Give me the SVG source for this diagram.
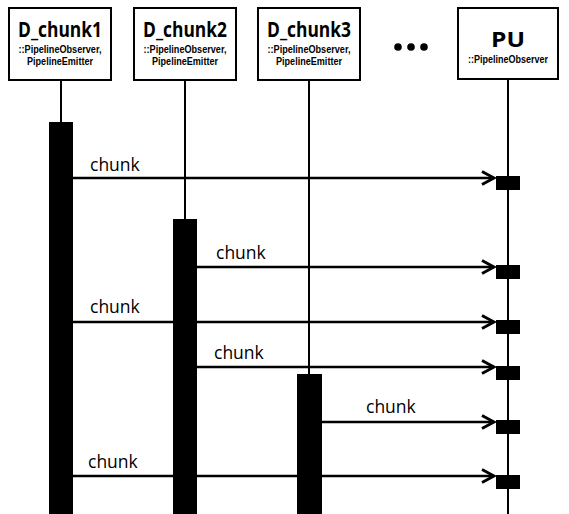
<svg xmlns="http://www.w3.org/2000/svg" width="569" height="514" viewBox="0 0 569 514">
  <style>
    .box { fill: #ffffff; stroke: #000000; stroke-width: 2; }
    .life { stroke: #000000; stroke-width: 2; fill: none; }
    .bar { fill: #000000; }
    .title { font-family: "Open Sans", "Liberation Sans", sans-serif; font-weight: bold; font-size: 21.5px; fill: #000000; }
    .sub { font-family: "Liberation Sans", "Open Sans", sans-serif; font-weight: bold; font-size: 10px; fill: #000000; }
    .msg { stroke: #000000; stroke-width: 2.5; fill: none; }
    .lbl { font-family: "Open Sans", "Liberation Sans", sans-serif; font-size: 17.5px; fill: #000000; }
  </style>
  <defs>
    <marker id="arrow" markerUnits="userSpaceOnUse" markerWidth="16" markerHeight="16" refX="13" refY="8" orient="auto">
      <polyline points="1,1.5 13,8 1,14.5" fill="none" stroke="#000000" stroke-width="3" stroke-linejoin="miter"/>
    </marker>
  </defs>
  <rect width="569" height="514" fill="#ffffff"/>

  <g id="node-d1">
    <line class="life" x1="61" y1="80" x2="61" y2="514"/>
    <rect class="box" x="9" y="8" width="102" height="72"/>
    <text class="title" x="60" y="37" text-anchor="middle" textLength="84" lengthAdjust="spacingAndGlyphs">D_chunk1</text>
    <text class="sub" x="60" y="53" text-anchor="middle" textLength="83" lengthAdjust="spacingAndGlyphs">::PipelineObserver,</text>
    <text class="sub" x="60" y="65" text-anchor="middle" textLength="66" lengthAdjust="spacingAndGlyphs">PipelineEmitter</text>
    <rect class="bar" x="49" y="122" width="24" height="392"/>
  </g>

  <g id="node-d2">
    <line class="life" x1="185" y1="80" x2="185" y2="514"/>
    <rect class="box" x="134" y="8" width="102" height="72"/>
    <text class="title" x="185" y="37" text-anchor="middle" textLength="84" lengthAdjust="spacingAndGlyphs">D_chunk2</text>
    <text class="sub" x="185" y="53" text-anchor="middle" textLength="83" lengthAdjust="spacingAndGlyphs">::PipelineObserver,</text>
    <text class="sub" x="185" y="65" text-anchor="middle" textLength="66" lengthAdjust="spacingAndGlyphs">PipelineEmitter</text>
    <rect class="bar" x="173" y="219" width="24" height="295"/>
  </g>

  <g id="node-d3">
    <line class="life" x1="309" y1="80" x2="309" y2="514"/>
    <rect class="box" x="258" y="8" width="102" height="72"/>
    <text class="title" x="309" y="37" text-anchor="middle" textLength="84" lengthAdjust="spacingAndGlyphs">D_chunk3</text>
    <text class="sub" x="309" y="53" text-anchor="middle" textLength="83" lengthAdjust="spacingAndGlyphs">::PipelineObserver,</text>
    <text class="sub" x="309" y="65" text-anchor="middle" textLength="66" lengthAdjust="spacingAndGlyphs">PipelineEmitter</text>
    <rect class="bar" x="297" y="374" width="25" height="140"/>
  </g>

  <g id="ellipsis">
    <circle cx="398" cy="47" r="3.8" fill="#000000"/>
    <circle cx="411" cy="47" r="3.8" fill="#000000"/>
    <circle cx="424" cy="47" r="3.8" fill="#000000"/>
  </g>

  <g id="node-pu">
    <line class="life" x1="508" y1="80" x2="508" y2="514"/>
    <rect class="box" x="458" y="8" width="100" height="71"/>
    <text class="title" x="508" y="47" text-anchor="middle" textLength="34" lengthAdjust="spacingAndGlyphs">PU</text>
    <text class="sub" x="508" y="63" text-anchor="middle" textLength="80" lengthAdjust="spacingAndGlyphs">::PipelineObserver</text>
    <rect class="bar" x="496" y="176" width="24" height="14"/>
    <rect class="bar" x="496" y="265" width="24" height="14"/>
    <rect class="bar" x="496" y="320" width="24" height="14"/>
    <rect class="bar" x="496" y="366" width="24" height="14"/>
    <rect class="bar" x="496" y="420" width="24" height="14"/>
    <rect class="bar" x="496" y="475" width="24" height="14"/>
  </g>

  <g id="connectors">
    <line class="msg" x1="73" y1="178" x2="494" y2="178" marker-end="url(#arrow)"/>
    <text class="lbl" x="90" y="171">chunk</text>
    <line class="msg" x1="197" y1="267" x2="494" y2="267" marker-end="url(#arrow)"/>
    <text class="lbl" x="216" y="259">chunk</text>
    <line class="msg" x1="73" y1="322" x2="494" y2="322" marker-end="url(#arrow)"/>
    <text class="lbl" x="90" y="313">chunk</text>
    <line class="msg" x1="197" y1="367" x2="494" y2="367" marker-end="url(#arrow)"/>
    <text class="lbl" x="214" y="359">chunk</text>
    <line class="msg" x1="322" y1="422" x2="494" y2="422" marker-end="url(#arrow)"/>
    <text class="lbl" x="366" y="413">chunk</text>
    <line class="msg" x1="73" y1="476" x2="494" y2="476" marker-end="url(#arrow)"/>
    <text class="lbl" x="88" y="468">chunk</text>
  </g>
</svg>
